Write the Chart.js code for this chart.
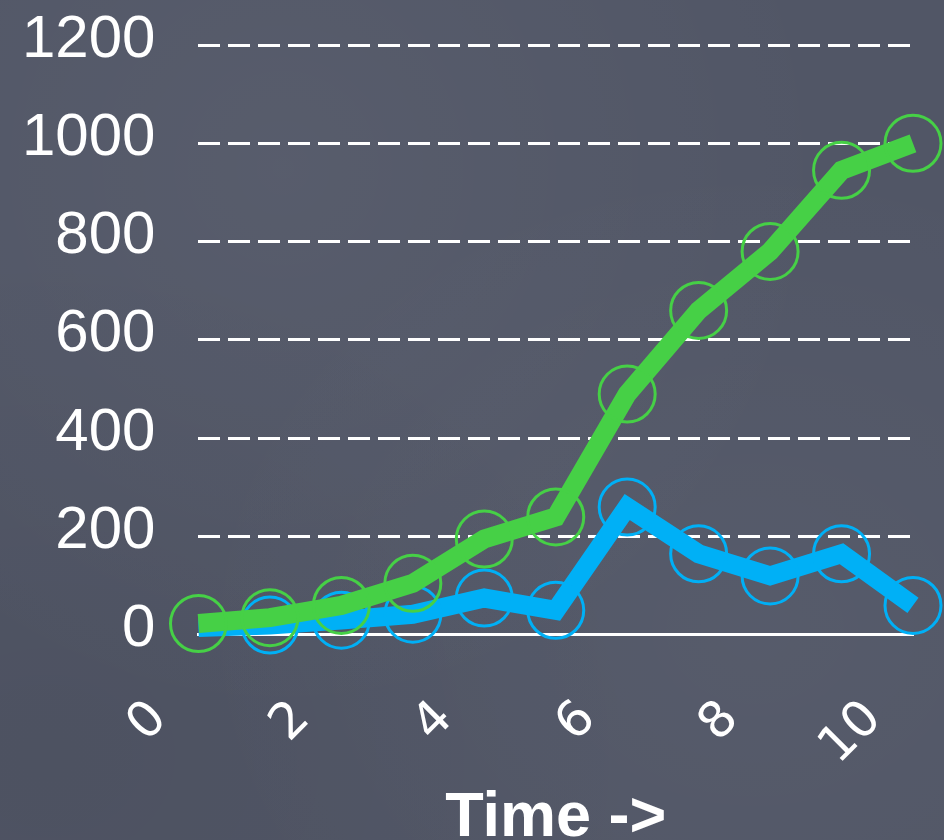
<!DOCTYPE html>
<html>
<head>
<meta charset="utf-8">
<script src="https://cdn.jsdelivr.net/npm/chart.js@4.4.1/dist/chart.umd.min.js"></script>
<style>
  html, body {
    margin: 0;
    padding: 0;
  }
  body {
    width: 944px;
    height: 840px;
    overflow: hidden;
    background-color: #515666;
    background-image:
      radial-gradient(ellipse at 30% 20%, rgba(255, 255, 255, 0.04), rgba(255, 255, 255, 0) 60%),
      radial-gradient(ellipse at 80% 75%, rgba(255, 255, 255, 0.03), rgba(255, 255, 255, 0) 55%),
      radial-gradient(ellipse at 5% 90%, rgba(0, 0, 0, 0.05), rgba(0, 0, 0, 0) 50%);
  }
  #chartBox {
    position: relative;
    width: 944px;
    height: 840px;
  }
</style>
</head>
<body>
<div id="chartBox">
  <canvas id="timeChart" width="944" height="840"></canvas>
</div>
<script>
// Valeurs
const timeLabels = ["0", "1", "2", "3", "4", "5", "6", "7", "8", "9", "10"];
const greenValues = [23, 35, 60, 105, 195, 240, 490, 660, 780, 945, 1000];
const blueValues = [15, 20, 30, 42, 75, 50, 260, 165, 120, 165, 60];
const yTicks = [0, 200, 400, 600, 800, 1000, 1200];
const xTitle = "Time ->";

const green = "#46d046";
const blue = "#00b0f6";

const ctx = document.getElementById("timeChart").getContext("2d");

const config = {
  type: "line",
  data: {
    labels: timeLabels,
    datasets: [
      {
        label: "green",
        data: greenValues,
        borderColor: green,
        borderWidth: 19,
        pointStyle: "circle",
        pointRadius: 28,
        pointHoverRadius: 28,
        pointBorderWidth: 3,
        pointBorderColor: green,
        pointBackgroundColor: "rgba(0,0,0,0)",
        tension: 0,
        clip: false,
      },
      {
        label: "blue",
        data: blueValues,
        borderColor: blue,
        borderWidth: 19,
        pointStyle: "circle",
        // pas de cercle bleu au premier point
        pointRadius: blueValues.map((v, i) => (i === 0 ? 0 : 28)),
        pointHoverRadius: 28,
        pointBorderWidth: 3,
        pointBorderColor: blue,
        pointBackgroundColor: "rgba(0,0,0,0)",
        tension: 0,
        clip: false,
      },
    ],
  },
  options: {
    responsive: false,
    animation: false,
    events: [],
    layout: {
      padding: { left: 19, right: 29, top: 45, bottom: 0 },
    },
    plugins: {
      legend: { display: false },
      tooltip: { enabled: false },
    },
    scales: {
      x: {
        offset: false,
        grid: { display: false, drawTicks: true, tickLength: 62 },
        border: { display: true, color: "#ffffff", width: 3 },
        ticks: {
          autoSkip: false,
          minRotation: 45,
          maxRotation: 45,
          padding: 0,
          labelOffset: -39,
          color: "#ffffff",
          font: { family: "'DejaVu Sans', sans-serif", size: 50, lineHeight: 0.8 },
          callback: (value, index) => (index % 2 === 0 ? timeLabels[index] : ""),
        },
        title: {
          display: true,
          text: xTitle,
          color: "#ffffff",
          font: { family: "'Liberation Sans', Arial, sans-serif", size: 63, weight: "bold", lineHeight: 0.68 },
          padding: { top: 27, bottom: 0 },
        },
      },
      y: {
        min: 0,
        max: 1200,
        afterBuildTicks: (axis) => {
          axis.ticks = yTicks.map((v) => ({ value: v }));
        },
        grid: {
          color: "#ffffff",
          lineWidth: 3,
          drawTicks: true,
          tickLength: 40,
          tickColor: "rgba(0,0,0,0)",
        },
        border: { display: false, dash: [22, 8] },
        ticks: {
          padding: 3,
          labelOffset: -5,
          color: "#ffffff",
          font: { family: "'Liberation Sans', Arial, sans-serif", size: 60, lineHeight: 1 },
          callback: (value) => String(value),
        },
      },
    },
  },
};

const timeChart = new Chart(ctx, config);
</script>
</body>
</html>
